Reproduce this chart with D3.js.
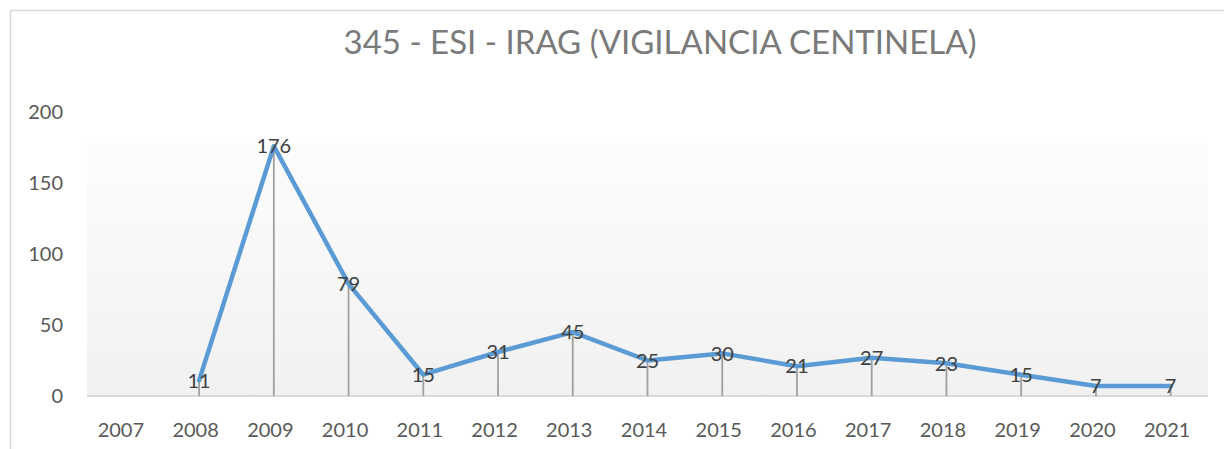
<!DOCTYPE html>
<html>
<head>
<meta charset="utf-8">
<script src="https://cdn.jsdelivr.net/npm/d3@7"></script>
<style>
  html, body { margin: 0; padding: 0; background: #ffffff; }
  svg { display: block; }
</style>
</head>
<body>
<svg id="chart" width="1224" height="449"></svg>
<script>
// Casos notificados por año – evento 345 ESI - IRAG (vigilancia centinela)
const years = ["2007", "2008", "2009", "2010", "2011", "2012", "2013", "2014",
               "2015", "2016", "2017", "2018", "2019", "2020", "2021"];
const cases = [null, 11, 176, 79, 15, 31, 45, 25, 30, 21, 27, 23, 15, 7, 7];
const yTicks = [0, 50, 100, 150, 200];
const chartTitle = "345 - ESI - IRAG (VIGILANCIA CENTINELA)";

const W = 1224, H = 449;
const plot = { left: 87, right: 1208, top: 142, bottom: 396 };
const font = "Lato, 'Liberation Sans', sans-serif";

const svg = d3.select("#chart");

const x = d3.scalePoint().domain(years).range([plot.left, plot.right]).padding(0.5);
const y = d3.scaleLinear().domain([0, 200]).range([plot.bottom, 112]);

const data = years.map((yr, i) => ({ year: yr, value: cases[i] }));
const present = data.filter(d => d.value !== null);

// chart area frame
svg.append("rect")
  .attr("x", 10.5).attr("y", 10.5)
  .attr("width", W + 20).attr("height", H + 20)
  .attr("fill", "#ffffff")
  .attr("stroke", "#d9d9d9").attr("stroke-width", 1.5);

// plot area gradient fill
const defs = svg.append("defs");
const grad = defs.append("linearGradient")
  .attr("id", "plotFill").attr("x1", 0).attr("y1", 0).attr("x2", 0).attr("y2", 1);
grad.append("stop").attr("offset", "0%").attr("stop-color", "#fdfdfd");
grad.append("stop").attr("offset", "100%").attr("stop-color", "#f1f1f1");

svg.append("rect")
  .attr("x", plot.left).attr("y", plot.top)
  .attr("width", plot.right - plot.left).attr("height", plot.bottom - plot.top)
  .attr("fill", "url(#plotFill)");

// title
svg.append("text")
  .attr("x", 660).attr("y", 54)
  .attr("text-anchor", "middle")
  .attr("font-family", font).attr("font-size", 33)
  .attr("fill", "#7a7a7a")
  .text(chartTitle);

// y axis labels (no axis line or gridlines)
const yAxis = d3.axisLeft(y).tickValues(yTicks).tickSize(0).tickPadding(0);
const gy = svg.append("g").attr("transform", `translate(63,0)`).call(yAxis);
gy.select(".domain").remove();
gy.selectAll("text")
  .attr("font-family", font).attr("font-size", 20)
  .attr("fill", "#595959");

// category axis
svg.append("line")
  .attr("x1", plot.left).attr("x2", plot.right)
  .attr("y1", plot.bottom).attr("y2", plot.bottom)
  .attr("stroke", "#d9d9d9").attr("stroke-width", 2);

const xAxis = d3.axisBottom(x).tickSize(0).tickPadding(0);
const gx = svg.append("g").attr("transform", `translate(-4,${plot.bottom})`).call(xAxis);
gx.select(".domain").remove();
gx.selectAll("text")
  .attr("dy", null).attr("y", 41)
  .attr("font-family", font).attr("font-size", 20)
  .attr("fill", "#595959");

// drop lines
svg.append("g").selectAll("line")
  .data(present).join("line")
  .attr("x1", d => x(d.year)).attr("x2", d => x(d.year))
  .attr("y1", d => y(d.value)).attr("y2", plot.bottom)
  .attr("stroke", "#a0a0a0").attr("stroke-width", 1.8);

// series line
const line = d3.line()
  .defined(d => d.value !== null)
  .x(d => x(d.year)).y(d => y(d.value));

svg.append("path")
  .datum(data)
  .attr("d", line)
  .attr("fill", "none")
  .attr("stroke", "#5b9bd5").attr("stroke-width", 4.5)
  .attr("stroke-linejoin", "round").attr("stroke-linecap", "round");

// data labels centred on each point
svg.append("g").selectAll("text")
  .data(present).join("text")
  .attr("x", d => x(d.year)).attr("y", d => y(d.value))
  .attr("dy", "0.36em")
  .attr("text-anchor", "middle")
  .attr("font-family", font).attr("font-size", 20)
  .attr("fill", "#404040")
  .text(d => d.value);
</script>
</body>
</html>
